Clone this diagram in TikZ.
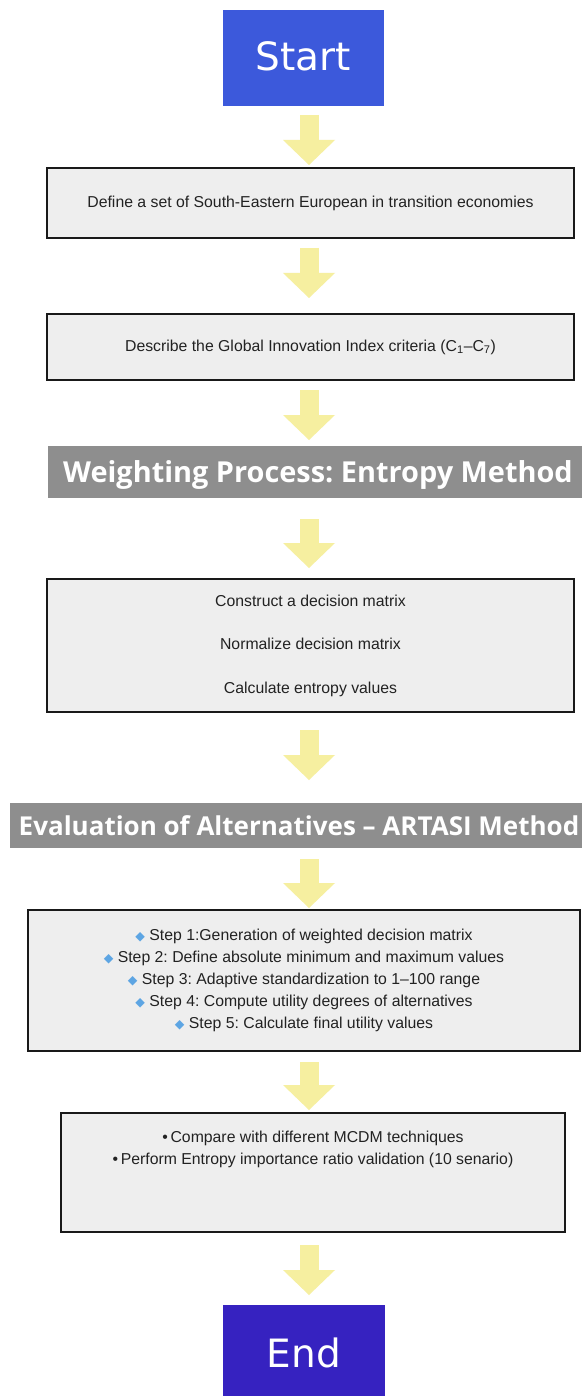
\documentclass[tikz,border=0pt]{standalone}
\usepackage{fontspec}
\setmainfont{Liberation Sans}
\newfontfamily\dejavu{DejaVu Sans}
\newfontfamily\opensans{Open Sans}
\usetikzlibrary{arrows.meta}
\frenchspacing
\definecolor{startblue}{HTML}{3C59DB}
\definecolor{endblue}{HTML}{3622C0}
\definecolor{bannergray}{HTML}{8E8E8E}
\definecolor{boxfill}{HTML}{EEEEEE}
\definecolor{arrowyellow}{HTML}{F6EFA0}
\definecolor{diamondblue}{HTML}{5DA5E3}
\definecolor{txt}{HTML}{222222}
\newcommand{\dmd}{{\dejavu\fontsize{12.5}{12.5}\selectfont\textcolor{diamondblue}{\raisebox{0.5pt}{◆}}}\ }
\tikzset{
  term/.style={fill=#1, draw=none, text=white, inner sep=0pt,
    font=\dejavu\fontsize{39}{39}\selectfont},
  stepbox/.style={draw=black!90, line width=1.5pt, fill=boxfill, inner sep=0pt,
    text=txt, align=center, font=\fontsize{15.8}{22}\selectfont},
  plaintext/.style={inner sep=0pt, text=txt, align=center, font=\fontsize{15.8}{22}\selectfont},
  banner/.style={fill=bannergray, draw=none, text=white, inner sep=0pt, text depth=0pt,
    font=\opensans\bfseries\fontsize{#1}{#1}\selectfont},
  fat/.style={draw=arrowyellow, line width=19pt,
    -{Triangle[length=25pt,width=52pt,line width=0pt]}}
}
\begin{document}
\begin{tikzpicture}[x=1pt,y=-1pt]
\path[use as bounding box, fill=white] (0,0) rectangle (581,1396);

% terminals
\node[term=startblue, minimum width=161pt, minimum height=96pt] (start) at (303.5,58) {\raisebox{4pt}{Start}};
\node[term=endblue, minimum width=162pt, minimum height=96pt] (end) at (304,1353) {End};

% boxes
\node[stepbox, minimum width=527pt, minimum height=70pt] (b1) at (310.5,203)
  {Define a set of South-Eastern European in transition economies};
\node[stepbox, minimum width=527pt, minimum height=66pt] (b2) at (310.5,347)
  {Describe the Global Innovation Index criteria (C\textsubscript{1}–C\textsubscript{7})};
\node[banner=28.9, minimum width=540pt, minimum height=52pt] (w) at (318,472)
  {Weighting Process: Entropy Method};
\node[stepbox, minimum width=527pt, minimum height=133pt, font=\fontsize{15.8}{43.5}\selectfont] (b3) at (310.5,645.5)
  {Construct a decision matrix\\Normalize decision matrix\\Calculate entropy values};
\node[banner=26, minimum width=578pt, minimum height=45pt] (e) at (299,825.5)
  {Evaluation of Alternatives – ARTASI Method};
\node[stepbox, minimum width=552pt, minimum height=141pt] (b4) at (304,980.5)
  {\dmd Step 1:Generation of weighted decision matrix\\
   \dmd Step 2: Define absolute minimum and maximum values\\
   \dmd Step 3: Adaptive standardization to 1–100 range\\
   \dmd Step 4: Compute utility degrees of alternatives\\
   \dmd Step 5: Calculate final utility values};
\node[stepbox, minimum width=504pt, minimum height=119pt] (b5) at (313,1172.5) {};
\node[plaintext] (b5t) at (313,1149)
  {\textbullet\,Compare with different MCDM techniques\\
   \textbullet\,Perform Entropy importance ratio validation (10 senario)};

% arrows
\coordinate (a1s) at (309,115);  \coordinate (a1e) at (309,165);
\coordinate (a2s) at (309,248);  \coordinate (a2e) at (309,298);
\coordinate (a3s) at (309,390);  \coordinate (a3e) at (309,440);
\coordinate (a4s) at (309,519);  \coordinate (a4e) at (309,568);
\coordinate (a5s) at (309,730);  \coordinate (a5e) at (309,780);
\coordinate (a6s) at (309,859);  \coordinate (a6e) at (309,908);
\coordinate (a7s) at (309,1062); \coordinate (a7e) at (309,1110);
\coordinate (a8s) at (309,1245); \coordinate (a8e) at (309,1295);
\foreach \i in {1,...,8} { \draw[fat] (a\i s) -- (a\i e); }
\end{tikzpicture}
\end{document}
